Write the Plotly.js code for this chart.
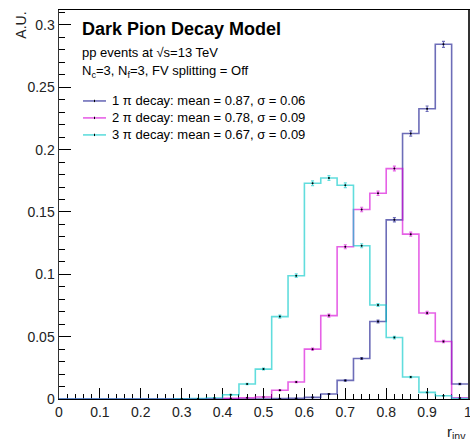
<!DOCTYPE html>
<html>
<head>
<meta charset="utf-8">
<script src="https://cdn.plot.ly/plotly-3.0.1.min.js"></script>
<style>html,body{margin:0;padding:0;background:#fff;}#chart{width:470px;height:439px;}</style>
</head>
<body>
<div id="chart"></div>
<script>
// Bin edges of r_inv (25 bins of width 0.04)
const binEdges = [0.00,0.04,0.08,0.12,0.16,0.20,0.24,0.28,0.32,0.36,0.40,0.44,0.48,0.52,0.56,0.60,0.64,0.68,0.72,0.76,0.80,0.84,0.88,0.92,0.96,1.00];

const seriesNames = [
  "1 \u03c0 decay: mean = 0.87, \u03c3 = 0.06",
  "2 \u03c0 decay: mean = 0.78, \u03c3 = 0.09",
  "3 \u03c0 decay: mean = 0.67, \u03c3 = 0.09"
];

// Normalised bin contents (A.U.)
const onePi = [0,0,0,0,0,0,0,0,0,0,0,0,0,0.0003,0.0005,0.0013,0.0040,0.0149,0.0325,0.0621,0.1437,0.2130,0.2328,0.2845,0.0120];
const twoPi = [0,0,0,0,0,0,0,0,0,0.0002,0.0005,0.0010,0.0016,0.0070,0.0136,0.0400,0.0669,0.1221,0.1520,0.1650,0.1848,0.1322,0.0690,0.0461,0.0010];
const threePi = [0,0,0,0,0,0,0,0.0002,0.0003,0.0008,0.0034,0.0120,0.0240,0.0661,0.0989,0.1730,0.1773,0.1714,0.1229,0.0754,0.0493,0.0176,0.0053,0.0026,0.0004];

// Statistical uncertainties
const onePiErr = [0,0,0,0,0,0,0,0,0,0,0,0,0,0.0001,0.0001,0.0002,0.0003,0.0005,0.0008,0.0011,0.0017,0.0021,0.0022,0.0024,0.0005];
const twoPiErr = [0,0,0,0,0,0,0,0,0,0.0001,0.0001,0.0001,0.0002,0.0004,0.0005,0.0009,0.0012,0.0016,0.0018,0.0018,0.0019,0.0016,0.0012,0.0010,0.0001];
const threePiErr = [0,0,0,0,0,0,0,0.0001,0.0001,0.0001,0.0003,0.0005,0.0007,0.0012,0.0014,0.0019,0.0019,0.0019,0.0016,0.0012,0.0010,0.0006,0.0003,0.0002,0.0001];

const xTickVals = [0,0.1,0.2,0.3,0.4,0.5,0.6,0.7,0.8,0.9,1];
const xTickText = ["0","0.1","0.2","0.3","0.4","0.5","0.6","0.7","0.8","0.9","1"];
const yTickVals = [0,0.05,0.1,0.15,0.2,0.25,0.3];
const yTickText = ["0","0.05","0.1","0.15","0.2","0.25","0.3"];

const colors = ["rgba(20,20,140,0.62)","rgba(215,0,215,0.62)","rgba(0,200,200,0.62)"];
const FONT = "Liberation Sans, Arial, Helvetica, sans-serif";

const centers = binEdges.slice(0,-1).map((e,i)=> (e + binEdges[i+1]) / 2);

function stepTrace(vals, color, name){
  return {
    x: binEdges, y: vals.concat([vals[vals.length-1]]),
    type: "scatter", mode: "lines", line: {shape: "hv", color: color, width: 1.6},
    name: name, showlegend: false, hoverinfo: "skip", cliponaxis: false
  };
}
function errTrace(vals, errs, color){
  return {
    x: centers, y: vals.map(v => v > 0 ? v : null),
    type: "scatter", mode: "markers",
    marker: {color: "black", size: 2},
    error_y: {type: "data", array: errs, color: color, thickness: 1.2, width: 1.5},
    showlegend: false, hoverinfo: "skip"
  };
}

const data = [
  stepTrace(onePi, colors[0], seriesNames[0]),
  stepTrace(twoPi, colors[1], seriesNames[1]),
  stepTrace(threePi, colors[2], seriesNames[2]),
  errTrace(onePi, onePiErr, colors[0]),
  errTrace(twoPi, twoPiErr, colors[1]),
  errTrace(threePi, threePiErr, colors[2])
];

// Legend (drawn as a ROOT-style TLegend box inside the frame)
const legendRowsY = [0.7662, 0.7226, 0.6789];   // paper coords of each row centre
const legendLineX = [0.0587, 0.1149];
const legendTextX = 0.1247;
const legendShapes = [];
const legendAnnots = [];
seriesNames.forEach((nm, i) => {
  legendShapes.push({type: "line", xref: "paper", yref: "paper",
    x0: legendLineX[0], x1: legendLineX[1], y0: legendRowsY[i], y1: legendRowsY[i],
    line: {color: colors[i], width: 1.6}});
  legendShapes.push({type: "line", xref: "paper", yref: "paper",
    x0: (legendLineX[0]+legendLineX[1])/2, x1: (legendLineX[0]+legendLineX[1])/2,
    y0: legendRowsY[i]-0.003, y1: legendRowsY[i]+0.003,
    line: {color: "black", width: 1}});
  legendAnnots.push({text: nm, xref: "paper", yref: "paper", x: legendTextX, y: legendRowsY[i],
    xanchor: "left", yanchor: "middle", showarrow: false, font: {family: FONT, size: 13, color: "black"}});
});

const layout = {
  width: 470, height: 439,
  margin: {l: 59, r: 2, t: 10, b: 40, pad: 0},
  paper_bgcolor: "white", plot_bgcolor: "white",
  font: {family: FONT, color: "black", size: 14},
  showlegend: false,
  xaxis: {
    range: [0, 1], showgrid: false, zeroline: false,
    showline: true, linecolor: "black", linewidth: 1, mirror: true,
    tickmode: "array", tickvals: xTickVals, ticktext: xTickText,
    ticks: "inside", ticklen: 11, tickwidth: 1, tickcolor: "black",
    minor: {ticks: "inside", ticklen: 5, dtick: 0.02, tick0: 0, tickcolor: "black", tickwidth: 1, showgrid: false},
    tickfont: {family: FONT, size: 14, color: "#222"},
    ticklabeloverflow: "allow",
    layer: "below traces"
  },
  yaxis: {
    range: [0, 0.312], showgrid: false, zeroline: false,
    showline: true, linecolor: "#333", linewidth: 1.5, mirror: true,
    tickmode: "array", tickvals: yTickVals, ticktext: yTickText,
    ticks: "inside", ticklen: 12, tickwidth: 1, tickcolor: "black",
    minor: {ticks: "inside", ticklen: 6, dtick: 0.01, tick0: 0, tickcolor: "black", tickwidth: 1, showgrid: false},
    tickfont: {family: FONT, size: 14, color: "#222"},
    layer: "below traces"
  },
  shapes: legendShapes,
  annotations: [
    {text: "<b>Dark Pion Decay Model</b>", xref: "paper", yref: "paper", x: 0.052, y: 0.951,
     xanchor: "left", yanchor: "middle", showarrow: false, font: {family: FONT, size: 18, color: "black"}},
    {text: "pp events at \u221As=13 TeV", xref: "paper", yref: "paper", x: 0.052, y: 0.891,
     xanchor: "left", yanchor: "middle", showarrow: false, font: {family: FONT, size: 13, color: "black"}},
    {text: "N<sub>c</sub>=3, N<sub>f</sub>=3, FV splitting = Off", xref: "paper", yref: "paper", x: 0.052, y: 0.843,
     xanchor: "left", yanchor: "middle", showarrow: false, font: {family: FONT, size: 13, color: "black"}},
    {text: "A.U.", xref: "paper", yref: "paper", x: -0.095, y: 1.0, textangle: -90,
     xanchor: "center", yanchor: "top", showarrow: false, font: {family: FONT, size: 14, color: "#222"}},
    {text: "r<sub>inv</sub>", xref: "paper", yref: "paper", x: 1.0, y: -0.056,
     xanchor: "right", yanchor: "top", showarrow: false, font: {family: FONT, size: 15, color: "#222"}}
  ].concat(legendAnnots)
};

Plotly.newPlot("chart", data, layout, {staticPlot: true, displayModeBar: false});
</script>
</body>
</html>
